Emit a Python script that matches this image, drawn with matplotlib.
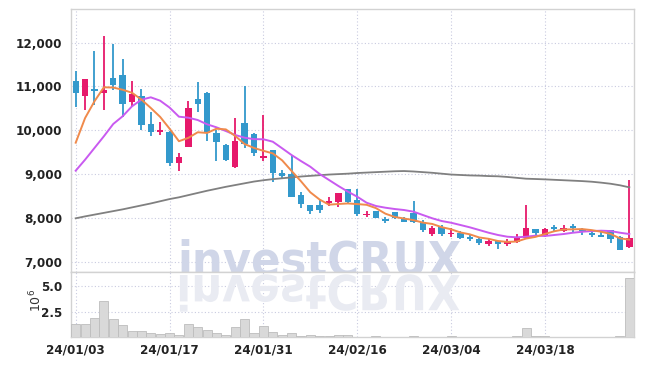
import numpy as np
import matplotlib
matplotlib.use('Agg')
import matplotlib.pyplot as plt
from matplotlib.textpath import TextPath
from matplotlib.patches import PathPatch
from matplotlib.font_manager import FontProperties
from matplotlib.transforms import Affine2D, IdentityTransform
from matplotlib.ticker import FuncFormatter

# 거래일 (24/01/03 ~ 24/03/29)
dates = ['24/01/03', '24/01/04', '24/01/05', '24/01/08', '24/01/09', '24/01/10', '24/01/11', '24/01/12',
         '24/01/15', '24/01/16', '24/01/17', '24/01/18', '24/01/19', '24/01/22', '24/01/23', '24/01/24',
         '24/01/25', '24/01/26', '24/01/29', '24/01/30', '24/01/31', '24/02/01', '24/02/02', '24/02/05',
         '24/02/06', '24/02/07', '24/02/08', '24/02/13', '24/02/14', '24/02/15', '24/02/16', '24/02/19',
         '24/02/20', '24/02/21', '24/02/22', '24/02/23', '24/02/26', '24/02/27', '24/02/28', '24/02/29',
         '24/03/04', '24/03/05', '24/03/06', '24/03/07', '24/03/08', '24/03/11', '24/03/12', '24/03/13',
         '24/03/14', '24/03/15', '24/03/18', '24/03/19', '24/03/20', '24/03/21', '24/03/22', '24/03/25',
         '24/03/26', '24/03/27', '24/03/28', '24/03/29']
tick_labels = ['24/01/03', '24/01/17', '24/01/31', '24/02/16', '24/03/04', '24/03/18']

opens = [11132, 10790, 10943, 10858, 11194, 11263, 10646, 10783, 10144, 9968,
         9961, 9260, 9626, 10715, 10858, 9938, 9664, 9162, 10174, 9922,
         9368, 9550, 9025, 9002, 8520, 8295, 8288, 8347, 8370, 8653,
         8409, 8059, 8158, 7975, 8128, 7968, 8105, 7906, 7626, 7799,
         7630, 7648, 7571, 7518, 7411, 7473, 7404, 7443, 7534, 7740,
         7610, 7799, 7708, 7822, 7747, 7640, 7594, 7724, 7571, 7342]
highs = [11347, 11180, 11804, 12146, 11970, 11628, 11119, 10950, 10410, 10200,
         9980, 9475, 10676, 11096, 10870, 10007, 9680, 10288, 11011, 9930,
         10349, 9560, 9094, 9436, 8591, 8300, 8409, 8470, 8570, 8660,
         8653, 8151, 8160, 8014, 8130, 8014, 8393, 7951, 7815, 7830,
         7770, 7700, 7610, 7540, 7520, 7480, 7510, 7630, 8285, 7745,
         7763, 7838, 7831, 7860, 7760, 7717, 7717, 7730, 7580, 8865]
lows = [10525, 10470, 10571, 10457, 10913, 10311, 10562, 10007, 9870, 9900,
        9192, 9064, 9626, 10411, 9763, 9306, 9300, 9146, 9589, 9413,
        9306, 8813, 8881, 8480, 8219, 8082, 8105, 8272, 8256, 8311,
        8043, 8027, 8000, 7877, 7968, 7900, 7890, 7678, 7587, 7590,
        7565, 7510, 7470, 7380, 7360, 7290, 7360, 7420, 7530, 7616,
        7571, 7685, 7685, 7685, 7610, 7571, 7560, 7434, 7260, 7306]
closes = [10852, 11171, 10904, 10927, 11027, 10600, 10829, 10128, 9968, 10007,
          9260, 9390, 10509, 10607, 9932, 9740, 9315, 9756, 9687, 9489,
          9413, 9018, 8963, 8484, 8311, 8151, 8180, 8386, 8562, 8370,
          8082, 8096, 8005, 7930, 7991, 7907, 7914, 7724, 7776, 7626,
          7665, 7548, 7511, 7420, 7473, 7411, 7443, 7557, 7763, 7662,
          7740, 7753, 7763, 7776, 7694, 7617, 7571, 7511, 7274, 7548]
volumes = [1.32e6, 1.32e6, 1.88e6, 3.55e6, 1.78e6, 1.2e6, 0.64e6, 0.64e6, 0.44e6, 0.31e6,
           0.44e6, 0.21e6, 1.32e6, 1.0e6, 0.74e6, 0.44e6, 0.21e6, 1.0e6, 1.78e6, 0.44e6,
           1.13e6, 0.54e6, 0.21e6, 0.41e6, 0.15e6, 0.2e6, 0.15e6, 0.1e6, 0.22e6, 0.2e6,
           0.08e6, 0.06e6, 0.1e6, 0.08e6, 0.05e6, 0.06e6, 0.1e6, 0.05e6, 0.08e6, 0.05e6,
           0.1e6, 0.05e6, 0.08e6, 0.05e6, 0.08e6, 0.08e6, 0.06e6, 0.1e6, 0.9e6, 0.12e6,
           0.1e6, 0.06e6, 0.08e6, 0.05e6, 0.06e6, 0.04e6, 0.05e6, 0.08e6, 0.15e6, 5.8e6]

# 이동평균선
ma5 = [9717, 10280, 10662, 10982, 10976, 10926, 10857, 10702, 10510, 10306,
       10038, 9751, 9827, 9955, 9940, 10036, 10021, 9870, 9686, 9597,
       9532, 9473, 9314, 9073, 8838, 8585, 8418, 8302, 8318, 8330,
       8316, 8299, 8223, 8097, 8021, 7986, 7949, 7893, 7862, 7789,
       7741, 7668, 7625, 7554, 7523, 7473, 7452, 7461, 7529, 7567,
       7633, 7695, 7736, 7739, 7745, 7721, 7684, 7634, 7533, 7504]
ma20 = [9078, 9329, 9596, 9863, 10144, 10320, 10548, 10699, 10753, 10676,
        10520, 10311, 10288, 10235, 10137, 10068, 9984, 9893, 9831, 9798,
        9795, 9740, 9589, 9436, 9299, 9169, 9002, 8865, 8728, 8600,
        8484, 8347, 8272, 8233, 8203, 8180, 8142, 8066, 7991, 7929,
        7890, 7838, 7785, 7724, 7662, 7610, 7571, 7557, 7571, 7594,
        7587, 7610, 7632, 7662, 7685, 7700, 7708, 7700, 7662, 7632]
ma60 = [7991, 8035, 8075, 8115, 8155, 8195, 8240, 8285, 8330, 8380,
        8430, 8470, 8520, 8570, 8620, 8665, 8710, 8750, 8790, 8830,
        8860, 8885, 8905, 8925, 8945, 8960, 8975, 8990, 9000, 9010,
        9025, 9035, 9045, 9055, 9065, 9070, 9060, 9045, 9030, 9010,
        8990, 8980, 8970, 8965, 8955, 8950, 8935, 8915, 8895, 8888,
        8880, 8870, 8860, 8850, 8840, 8826, 8805, 8780, 8745, 8698]

UP = '#e6196b'
DOWN = '#3399cc'
GRID = '#c9cbe0'
SPINE = '#d2d2d2'

fig = plt.figure(figsize=(6.45, 3.66), dpi=100)
ax = fig.add_axes([0.1101, 0.2568, 0.8729, 0.7186])
axv = fig.add_axes([0.1101, 0.0779, 0.8729, 0.1789], sharex=ax)

x = np.arange(len(dates))
o = np.array(opens, float)
h = np.array(highs, float)
l = np.array(lows, float)
c = np.array(closes, float)
col = np.where(c >= o, UP, DOWN)

# 캔들
ax.vlines(x, l, h, colors=col, linewidth=1.3, zorder=3)
body = np.maximum(np.abs(c - o), 35)
ax.bar(x, body, bottom=np.minimum(o, c), width=0.68, color=col, zorder=4)

# 이동평균
ax.plot(x, ma60, color='#808080', lw=1.3, zorder=5)
ax.plot(x, ma20, color='#c95af0', lw=1.4, zorder=5)
ax.plot(x, ma5, color='#f08a4b', lw=1.4, zorder=6)

# 거래량
axv.bar(x, volumes, width=0.96, color='#d9d9d9', edgecolor='#bdbdbd', linewidth=0.6, zorder=3)

label_font = FontProperties(family='DejaVu Sans', weight='bold', stretch='condensed', size=9.5)

ax.set_xlim(-0.5, len(dates) - 0.5)
ax.set_ylim(6765, 12769)
ax.set_yticks([7000, 8000, 9000, 10000, 11000, 12000])
ax.yaxis.set_major_formatter(FuncFormatter(lambda v, p: f'{int(v):,}'))
axv.set_ylim(0, 6.42e6)
axv.set_yticks([2.5e6, 5.0e6])
axv.yaxis.set_major_formatter(FuncFormatter(lambda v, p: f'{v / 1e6:.1f}'))
axv.set_xticks([dates.index(t) for t in tick_labels])
axv.set_xticklabels(tick_labels)

for a in (ax, axv):
    a.grid(True, color=GRID, linestyle=(0, (1, 2)), linewidth=0.8, zorder=0)
    a.set_axisbelow(True)
    a.tick_params(length=0, pad=6, colors='#222222')
    for s in a.spines.values():
        s.set_color(SPINE)
        s.set_linewidth(1.0)
    for lab in a.get_yticklabels() + a.get_xticklabels():
        lab.set_fontproperties(label_font)
ax.tick_params(labelbottom=False)
axv.tick_params(axis='x', pad=4)

fig.text(36 / 645, 1 - 300 / 366, r'$10^{6}$', rotation=90, ha='center', va='center',
         fontsize=9, color='#333333')

# 워터마크
wm_font = FontProperties(family='DejaVu Sans', weight='bold', stretch='condensed')
base_px = 275
ax_h_px = 0.7186 * 366
wm = ax.text(0.442, (272 - base_px) / ax_h_px, 'investCRUX', transform=ax.transAxes,
             ha='center', va='baseline', fontproperties=wm_font, fontsize=40,
             color='#d0d6e8', zorder=1, clip_on=True)
fig.canvas.draw()
w = wm.get_window_extent().width
fs = 40 * 284 / w
wm.set_fontsize(fs)

tp = TextPath((0, 0), 'investCRUX', size=fs * 100 / 72, prop=wm_font)
ext = tp.get_extents()
cx = 71 + 0.442 * 563
tr = Affine2D().translate(-(ext.x0 + ext.x1) / 2, 0).scale(1, -1).translate(cx, 366 - base_px)
refl = PathPatch(tp, transform=tr + IdentityTransform(), facecolor='#e9ebf2',
                 edgecolor='none', zorder=1)
axv.add_patch(refl)

fig.savefig('out.png', dpi=100)
